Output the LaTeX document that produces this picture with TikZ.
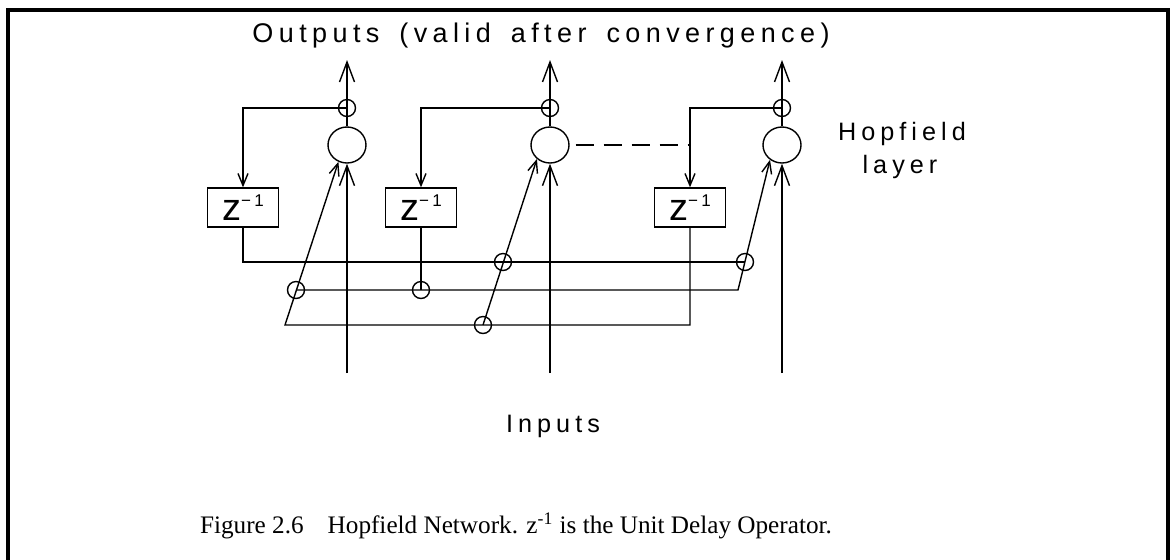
\documentclass[tikz,border=0pt]{standalone}
\usepackage{fontspec}
\setmainfont{Liberation Serif}
\newfontfamily\plotfont[LetterSpace=20]{Liberation Sans}
\newfontfamily\boxfont[LetterSpace=20]{Liberation Sans}
\usetikzlibrary{arrows.meta,shapes.geometric}

\newcommand{\zinv}{{\boxfont\fontsize{19}{19}\selectfont z}\raisebox{6.8pt}{\boxfont\fontsize{8.5}{8.5}\selectfont −1}}
\newcommand{\widespaces}{\spaceskip=10pt\relax}

\tikzset{
  bigtip/.style={-{Straight Barb[length=10pt,width=7.5pt]}},
  smalltip/.style={-{Straight Barb[length=6pt,width=5pt]}},
  neuron/.style={draw,ellipse,inner sep=0pt,minimum width=19pt,minimum height=18pt},
  joint/.style={draw,circle,inner sep=0pt,minimum size=8.5pt},
  delaybox/.style={draw,rectangle,inner sep=0pt,minimum width=35.5pt,minimum height=19.5pt},
  plottext/.style={inner sep=0pt,font=\plotfont\fontsize{12.6}{16}\selectfont},
}

\begin{document}
\begin{tikzpicture}[x=0.5pt,y=-0.5pt,line width=0.7pt]
\useasboundingbox (0,0) rectangle (1172,559);
% frame, open at the bottom
\draw[line width=2pt] (8,575) -- (8,10) -- (1168,10) -- (1168,575);

\node[plottext,anchor=base,font=\plotfont\fontsize{13.5}{16}\selectfont]
  (outputs) at (541,42) {\widespaces Outputs (valid after convergence)};

% the three units with output taps
\foreach \n/\x in {1/347,2/550,3/782} {
  \node[neuron] (n\n) at (\x,145) {};
  \node[joint] (t\n) at (\x,108) {};
  \coordinate (out\n) at (\x,60);
  \coordinate (in\n) at (\x,373);
  \draw[bigtip] (n\n) -- (out\n);
  \draw[bigtip] (in\n) -- (n\n);
}

\node[plottext,anchor=base] (hop) at (902,140) {Hopfield};
\node[plottext,anchor=base] (layer) at (900,173) {layer};

% delays
\node[delaybox] (d1) at (243,207.5) {\zinv};
\node[delaybox] (d2) at (421,207.5) {\zinv};
\node[delaybox] (d3) at (690,207.5) {\zinv};

\draw[smalltip] (t1.center) -| (d1);
\draw[smalltip] (t2.center) -| (d2);
\draw[smalltip] (t3.center) -| (d3);
\draw[dash pattern=on 9pt off 5pt] ([xshift=3pt]n2.east) -- (n2 -| d3);

% junctions on the wires
\node[joint] (j1) at (296,290) {};
\node[joint] (j2) at (421,290) {};
\node[joint] (j3) at (483,325) {};
\node[joint] (j4) at (503,262) {};
\node[joint] (j5) at (745,262) {};
\coordinate (k1) at (285,325);
\coordinate (k3) at (738,290);

\draw (d1) |- (j5.center);
\draw (d2) -- (j2.center);
\draw[smalltip] (d3) |- (k1) -- (n1.243);
\draw[smalltip] (j1.center) -- (k3) -- (n3.231);
\draw[smalltip] (j3.center) -- (n2.227);

\node[plottext,anchor=base] (inputs) at (553,432) {Inputs};
\node[anchor=base,inner sep=0pt,font=\fontsize{12.6}{14}\selectfont] (caption) at (516,533)
  {Figure 2.6\hspace{12pt}Hopfield Network. z\textsuperscript{-1} is the Unit Delay Operator.};
\end{tikzpicture}
\end{document}
